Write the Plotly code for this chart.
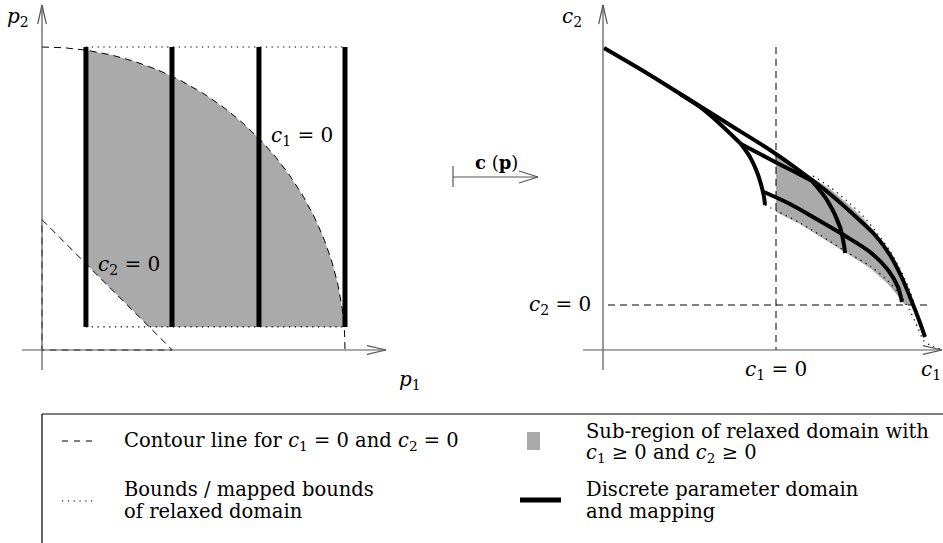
import numpy as np
import plotly.graph_objects as go

W, H = 943, 543

# ---------------- left panel : parameter space (p1, p2) ----------------
bar_p1 = [0.145, 0.429, 0.716, 1.0]      # discrete parameter values (thick bars)
p2_bounds = [0.076, 1.0]                 # lower / upper bound of relaxed domain
c1_radius = 1.0                          # contour c1 = 0 : p1^2 + p2^2 = R^2
c2_level = 0.43                          # contour c2 = 0 : p1 + p2 = s

# ---------------- right panel : constraint space (c1, c2) ----------------
A_c1 = [-1.72, -1.31, -0.86, -0.46, -0.06, 0.24, 0.54, 0.79, 0.99, 1.14, 1.26, 1.36, 1.43, 1.49]
A_c2 = [2.57, 2.33, 2.05, 1.80, 1.55, 1.34, 1.11, 0.89, 0.70, 0.50, 0.27, 0.03, -0.15, -0.32]
Bu_c1 = [-0.96, -0.76, -0.56, -0.35]
Bu_c2 = [2.11, 1.98, 1.81, 1.61]
Bl_c1 = [-0.35, -0.26, -0.19, -0.14, -0.12, -0.11]
Bl_c2 = [1.61, 1.48, 1.33, 1.17, 1.08, 1.00]
C_c1 = [-0.35, -0.16, 0.01, 0.19, 0.36]
C_c2 = [1.61, 1.51, 1.42, 1.33, 1.24]
E_c1 = [0.36, 0.51, 0.64, 0.68, 0.69]
E_c2 = [1.24, 1.05, 0.78, 0.60, 0.52]
D_c1 = [-0.12, 0.14, 0.37, 0.71, 0.94, 1.12, 1.22, 1.26]
D_c2 = [1.13, 1.01, 0.88, 0.68, 0.53, 0.35, 0.18, 0.03]
gray_c1 = [0.0, 0.19, 0.37, 0.54, 0.71, 0.87, 1.01, 1.14, 1.24, 1.32, 1.38,
           1.29, 1.22, 1.11, 0.94, 0.69, 0.44, 0.24, 0.0]
gray_c2 = [1.48, 1.38, 1.27, 1.16, 1.02, 0.87, 0.70, 0.52, 0.35, 0.18, 0.0,
           0.0, 0.09, 0.22, 0.37, 0.53, 0.69, 0.81, 0.93]
low_c1 = [-0.11, 0.01, 0.24, 0.44, 0.69, 0.94, 1.11, 1.24, 1.34, 1.42, 1.48, 1.56, 1.64]
low_c2 = [1.00, 0.94, 0.82, 0.70, 0.54, 0.39, 0.25, 0.10, -0.06, -0.23, -0.36, -0.41, -0.44]
up_c1 = [0.37, 0.54, 0.71, 0.87, 1.01, 1.14, 1.24, 1.32, 1.38]
up_c2 = [1.29, 1.18, 1.04, 0.89, 0.72, 0.54, 0.36, 0.19, 0.02]

FONT = "DejaVu Serif"
GRAY = "#aaaaaa"
AX = "#555555"
DASH = "7px,5px"
DOT = "1.3px,4.5px"

fig = go.Figure()

def line(x, y, ax, color="black", width=1.0, dash="solid", fill=None, fillcolor=None, shape="linear"):
    xa, ya = ("x", "y") if ax == 1 else ("x2", "y2")
    fig.add_trace(go.Scatter(x=x, y=y, mode="lines", xaxis=xa, yaxis=ya,
                             line=dict(color=color, width=width, dash=dash, shape=shape, smoothing=0.8),
                             fill=fill, fillcolor=fillcolor, hoverinfo="skip",
                             showlegend=False))

# ---- left panel geometry
R, s = c1_radius, c2_level
lo, hi = p2_bounds
a1 = bar_p1[0]
t0 = np.arctan2(min(np.sqrt(R**2 - a1**2), hi), a1)
t1 = np.arctan2(lo, np.sqrt(R**2 - lo**2))
tt = np.linspace(t0, t1, 80)
gx = [a1, a1] + list(R * np.cos(tt)) + [s - lo, a1]
gy = [s - a1, np.sqrt(R**2 - a1**2)] + list(R * np.sin(tt)) + [lo, s - a1]
line(gx, gy, 1, color=GRAY, width=0, fill="toself", fillcolor=GRAY)

arc = np.linspace(np.pi / 2, 0, 120)
line(list(R * np.cos(arc)), list(R * np.sin(arc)), 1, width=1, dash=DASH)
line([0, s, 0, 0], [s, 0, 0, s], 1, width=1, dash=DASH)
line([a1, bar_p1[-1]], [hi, hi], 1, width=1.2, dash=DOT)
line([a1, bar_p1[-1]], [lo, lo], 1, width=1.2, dash=DOT)
for a in bar_p1:
    line([a, a], [lo, hi], 1, width=5)

# left axes (px scale: 1 unit = 303 px)
u = 1 / 303
line([0, 0], [-20 * u, 345 * u], 1, color=AX, width=1.2)
line([-20 * u, 344 * u], [0, 0], 1, color=AX, width=1.2)
line([-4.3 * u, 0, 4.3 * u], [326 * u, 345 * u, 326 * u], 1, color=AX, width=1.2)
line([325 * u, 344 * u, 325 * u], [4.3 * u, 0, -4.3 * u], 1, color=AX, width=1.2)

# ---- right panel
line(gray_c1, gray_c2, 2, color=GRAY, width=0, fill="toself", fillcolor=GRAY)
line(low_c1, low_c2, 2, width=1.2, dash=DOT, shape="spline")
line(up_c1, up_c2, 2, width=1.2, dash=DOT, shape="spline")
line([0, 0], [2.58, -0.45], 2, width=1, dash=DASH)
line([-1.68, 1.53], [0, 0], 2, width=1, dash=DASH)
for cx, cy in [(A_c1, A_c2), (Bu_c1, Bu_c2), (Bl_c1, Bl_c2), (C_c1, C_c2), (E_c1, E_c2), (D_c1, D_c2)]:
    line(cx, cy, 2, width=4, shape="spline")
# right axes (1 unit = 100 px), origin of drawn axes at (-1.73, -0.45)
line([-1.73, -1.73], [-0.65, 3.0], 2, color=AX, width=1.2)
line([-1.93, 1.66], [-0.45, -0.45], 2, color=AX, width=1.2)
line([-1.773, -1.73, -1.687], [2.81, 3.0, 2.81], 2, color=AX, width=1.2)
line([1.47, 1.66, 1.47], [-0.407, -0.45, -0.493], 2, color=AX, width=1.2)

def px(x):
    return x / W

def py(y):
    return 1 - y / H

ann = []
def text(t, x, y, xref, yref, anchor="center", size=19.5):
    ann.append(dict(text=t, x=x, y=y, xref=xref, yref=yref, showarrow=False,
                    xanchor=anchor, yanchor="middle",
                    font=dict(family=FONT, size=size, color="black")))

c1 = "<i>c</i><sub>1</sub>"
c2 = "<i>c</i><sub>2</sub>"
MS = 20
text(c1 + " = 0", 0.858, 0.706, "x", "y", size=MS)
text(c2 + " = 0", 0.287, 0.281, "x", "y", size=MS)
text("<i>p</i><sub>2</sub>", -0.079, 1.099, "x", "y", size=MS)
text("<i>p</i><sub>1</sub>", 1.215, -0.099, "x", "y", size=MS)
text(c2, -2.04, 2.88, "x2", "y2", size=MS)
text(c1 + " = 0", 0.0, -0.65, "x2", "y2", size=MS)
text(c2 + " = 0", -1.83, 0.0, "x2", "y2", anchor="right", size=MS)
text(c1, 1.665, -0.65, "x2", "y2", anchor="right", size=MS)
text("<b>c</b> (<b>p</b>)", px(496), py(162), "paper", "paper", size=18)

# legend texts
text("Contour line for " + c1 + " = 0 and " + c2 + " = 0", px(122), py(441), "paper", "paper", anchor="left")
text("Sub-region of relaxed domain with", px(584), py(431), "paper", "paper", anchor="left")
text(c1 + " ≥ 0 and " + c2 + " ≥ 0", px(584), py(453), "paper", "paper", anchor="left")
text("Bounds / mapped bounds", px(122), py(489), "paper", "paper", anchor="left")
text("of relaxed domain", px(122), py(511), "paper", "paper", anchor="left")
text("Discrete parameter domain", px(584), py(489), "paper", "paper", anchor="left")
text("and mapping", px(584), py(511), "paper", "paper", anchor="left")

shapes = []
def seg(x0, y0, x1, y1, color="black", width=1, dash="solid"):
    shapes.append(dict(type="line", xref="paper", yref="paper", x0=px(x0), y0=py(y0),
                       x1=px(x1), y1=py(y1), line=dict(color=color, width=width, dash=dash)))

# mapping arrow |---->
seg(453, 166, 453, 187, color=AX, width=1.2)
seg(453, 177, 538, 177, color=AX, width=1.2)
seg(519, 171, 538, 177, color=AX, width=1.2)
seg(519, 183, 538, 177, color=AX, width=1.2)
# legend frame
seg(42, 414, 943, 414, width=1.2)
seg(42, 414, 42, 543, width=1.2)
# legend symbols
seg(62, 441, 96, 441, width=1, dash="6px,6px")
seg(62, 501, 96, 501, width=1.2, dash=DOT)
shapes.append(dict(type="rect", xref="paper", yref="paper", x0=px(527), x1=px(540),
                   y0=py(450), y1=py(432), fillcolor=GRAY, line=dict(width=0)))
seg(520, 500, 561, 500, width=5)

fig.update_layout(
    width=W, height=H, margin=dict(l=0, r=0, t=0, b=0),
    paper_bgcolor="white", plot_bgcolor="rgba(0,0,0,0)",
    xaxis=dict(domain=[0, 420 / W], range=[-42 / 303, 378 / 303], visible=False, fixedrange=True),
    yaxis=dict(domain=[1 - 400 / H, 1], range=[-50 / 303, 350 / 303], visible=False, fixedrange=True),
    xaxis2=dict(domain=[560 / W, 1], range=[-2.16, 1.67], visible=False, fixedrange=True),
    yaxis2=dict(domain=[1 - 400 / H, 1], range=[-0.95, 3.05], visible=False, fixedrange=True),
    annotations=ann, shapes=shapes, showlegend=False,
)
fig.write_html("out.html", config={"displayModeBar": False},
               post_script="document.body.style.margin='0';document.body.style.overflow='hidden';")
